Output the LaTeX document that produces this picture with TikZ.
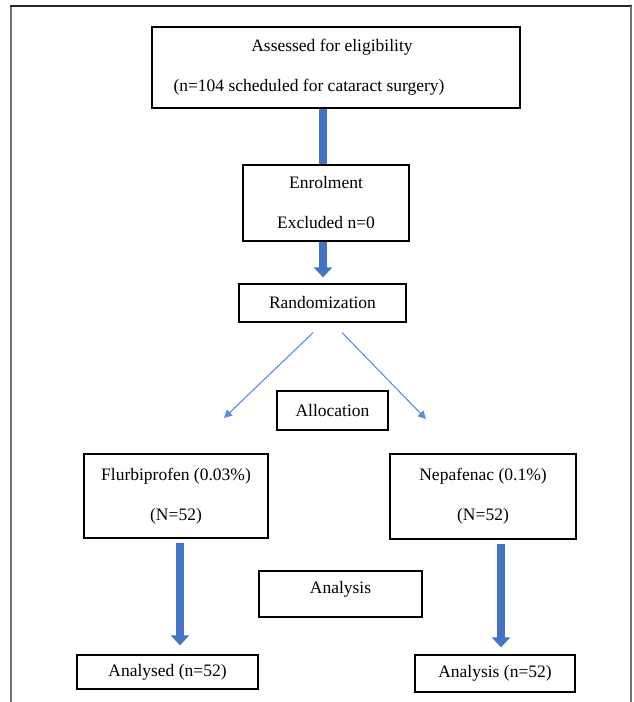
\documentclass[tikz,border=0pt]{standalone}
\usepackage{fontspec}
\setmainfont{Liberation Serif}
\usetikzlibrary{arrows.meta}

\definecolor{fatblue}{RGB}{68,114,196}
\definecolor{thinblue}{RGB}{91,141,218}

\tikzset{
  box/.style={draw=black,line width=1.3pt,inner sep=0pt,align=center,
    font=\fontsize{17.5}{40}\selectfont},
  fatarrow/.style={fatblue,line width=8pt,-{Triangle[width=18pt,length=10pt]}},
  fatline/.style={fatblue,line width=8pt},
  thinarrow/.style={thinblue,line width=1.1pt,-{Triangle[width=8pt,length=8pt]}}
}

\begin{document}
\begin{tikzpicture}[x=1pt,y=-1pt]
\useasboundingbox (0,0) rectangle (633,702);

%\draw[step=50,gray,very thin] (0,0) grid (633,702); %background grid

\draw[black!55,line width=1.5pt] (11,702) -- (11,6); %frame left
\draw[black!85,line width=1.5pt] (10.25,6) -- (631.75,6); %frame top
\draw[black!55,line width=1.5pt] (631,6) -- (631,702); %frame right

\node[box,minimum width=368,minimum height=81] (assess) at (336,67.5)
  {Assessed for eligibility\hspace*{8pt}\\(n=104 scheduled for cataract surgery)\hspace*{54pt}};
\node[box,minimum width=166,minimum height=76] (enrol) at (326,203)
  {Enrolment\\Excluded n=0};
\node[box,minimum width=167,minimum height=38] (random) at (322.5,303) {Randomization};
\node[box,minimum width=111,minimum height=39] (alloc) at (332.5,410.5) {Allocation};

\node[box,minimum width=184,minimum height=84] (flurbi) at (176,496)
  {Flurbiprofen (0.03\%)\\(N=52)};
\node[box,minimum width=186,minimum height=85] (nepa) at (483,496.5)
  {Nepafenac (0.1\%)\\(N=52)};

\node[box,minimum width=163,minimum height=46,text depth=14pt] (analysis) at (340.5,594) {Analysis};

\node[box,minimum width=181,minimum height=34] (analysed) at (167.5,672) {Analysed (n=52)};
\node[box,minimum width=160,minimum height=37] (analysisn) at (495,673.5) {Analysis (n=52)};

\draw[fatline] ([xshift=-3pt]enrol.north |- assess.south) -- ([xshift=-3pt]enrol.north); %to enrolment
\draw[fatarrow,shorten >=6pt] ([xshift=-3pt]enrol.south) -- ([xshift=0.5pt]random.north); %to randomization

\coordinate (lefttip) at (224,418);
\coordinate (righttip) at (426,419);
\draw[thinarrow,shorten <=14.4pt] ([xshift=1pt]random.south) -- (lefttip); %left branch
\draw[thinarrow,shorten <=13.9pt] ([xshift=9.8pt]random.south) -- (righttip); %right branch

\draw[fatarrow,shorten <=4pt,shorten >=9pt] ([xshift=4pt]flurbi.south) -- ([xshift=4pt]flurbi.south |- analysed.north);
\draw[fatarrow,shorten <=4pt,shorten >=7pt] ([xshift=18pt]nepa.south) -- ([xshift=18pt]nepa.south |- analysisn.north);

\end{tikzpicture}
\end{document}
